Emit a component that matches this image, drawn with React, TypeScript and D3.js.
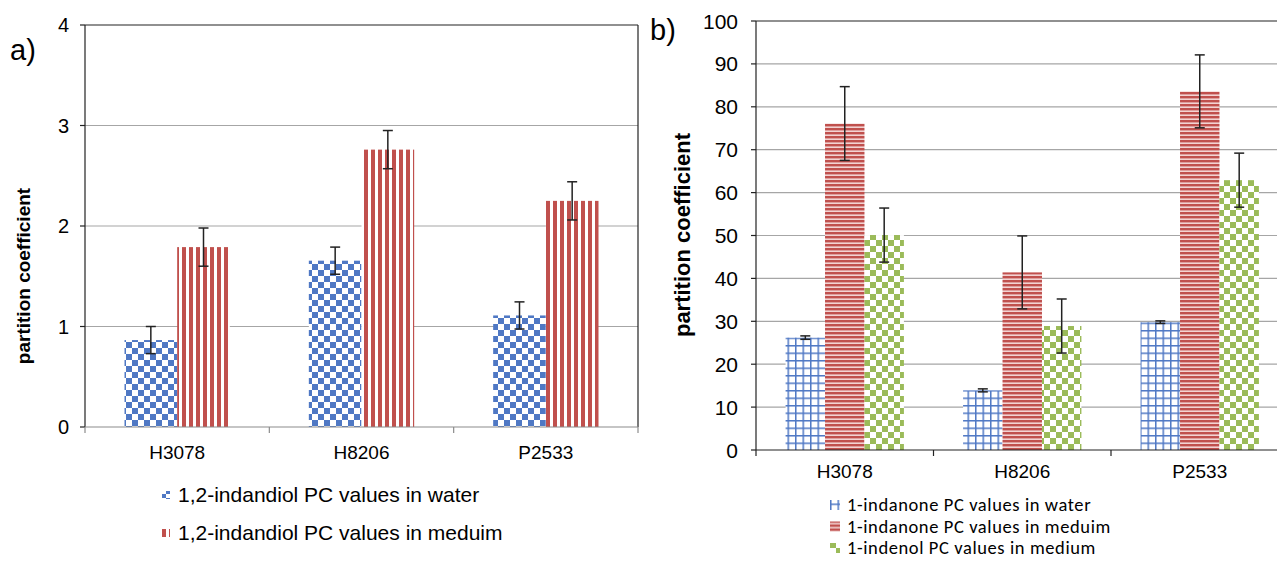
import React from 'react';
import * as d3 from 'd3';

// panel a data
const catsA = ['H3078', 'H8206', 'P2533'];
const seriesA = ['1,2-indandiol PC values in water', '1,2-indandiol PC values in meduim'];
const waterA = [0.865, 1.655, 1.11];
const waterAErr = [0.135, 0.135, 0.135];
const mediumA = [1.79, 2.76, 2.25];
const mediumAErr = [0.19, 0.19, 0.19];
const ticksA = [0, 1, 2, 3, 4];

// panel b data
const catsB = ['H3078', 'H8206', 'P2533'];
const seriesB = ['1-indanone PC values in water', '1-indanone PC values in meduim', '1-indenol PC values in medium'];
const waterB = [26.2, 13.9, 29.8];
const waterBErr = [0.4, 0.35, 0.3];
const indanoneB = [76.1, 41.4, 83.6];
const indanoneBErr = [8.6, 8.5, 8.5];
const indenolB = [50.1, 28.9, 62.9];
const indenolBErr = [6.3, 6.3, 6.3];
const ticksB = [0, 10, 20, 30, 40, 50, 60, 70, 80, 90, 100];

const ARIAL = 'Liberation Sans, Arial, sans-serif';
const CALIBRI = 'Carlito, Lato, sans-serif';

const App: React.FC = () => {
  // panel a scales
  const xA = d3.scaleBand<string>().domain(catsA).range([85, 638]);
  const yA = d3.scaleLinear().domain([0, 4]).range([427, 25]);
  const gapA = 1.5;
  const barWA = xA.bandwidth() / (seriesA.length + gapA);
  const valsA = [waterA, mediumA];
  const errsA = [waterAErr, mediumAErr];
  const fillsA = ['url(#checkBlue)', 'url(#vstripeRed)'];

  // panel b scales
  const xB = d3.scaleBand<string>().domain(catsB).range([756, 1288.5]);
  const yB = d3.scaleLinear().domain([0, 100]).range([450, 21]);
  const gapB = 1.5;
  const barWB = xB.bandwidth() / (seriesB.length + gapB);
  const valsB = [waterB, indanoneB, indenolB];
  const errsB = [waterBErr, indanoneBErr, indenolBErr];
  const fillsB = ['url(#gridBlue)', 'url(#hstripeRed)', 'url(#checkGreen)'];

  return (
    <svg width={1277} height={561} style={{ position: 'absolute', left: 0, top: 0, background: '#fff' }}>
      <defs>
        <pattern id="checkBlue" width={12} height={12} patternUnits="userSpaceOnUse">
          <rect width={12} height={12} fill="#fff" />
          <rect x={0} y={0} width={6} height={6} fill="#4f78c4" />
          <rect x={6} y={6} width={6} height={6} fill="#4f78c4" />
        </pattern>
        <pattern id="checkBlueSmall" width={8} height={8} patternUnits="userSpaceOnUse">
          <rect width={8} height={8} fill="#fff" />
          <rect x={0} y={0} width={4} height={4} fill="#4f78c4" />
          <rect x={4} y={4} width={4} height={4} fill="#4f78c4" />
        </pattern>
        <pattern id="vstripeRed" width={7} height={7} patternUnits="userSpaceOnUse">
          <rect width={7} height={7} fill="#fff" />
          <rect x={0} y={0} width={4} height={7} fill="#c0504d" />
        </pattern>
        <pattern id="gridBlue" width={7.5} height={7.5} patternUnits="userSpaceOnUse">
          <rect width={7.5} height={7.5} fill="#fff" />
          <rect x={0} y={0} width={1.5} height={7.5} fill="#4f78c4" />
          <rect x={0} y={0} width={7.5} height={1.5} fill="#4f78c4" />
        </pattern>
        <pattern id="hstripeRed" width={4} height={4} patternUnits="userSpaceOnUse">
          <rect width={4} height={4} fill="#f2d3d2" />
          <rect x={0} y={0} width={4} height={2.4} fill="#c0504d" />
        </pattern>
        <pattern id="checkGreen" width={12} height={12} patternUnits="userSpaceOnUse">
          <rect width={12} height={12} fill="#fff" />
          <rect x={0} y={0} width={6} height={6} fill="#9bbb59" />
          <rect x={6} y={6} width={6} height={6} fill="#9bbb59" />
        </pattern>
      </defs>

      {/* ---------- panel a ---------- */}
      <text x={10} y={60} fontFamily={ARIAL} fontSize={29}>a)</text>
      {ticksA.filter(t => t > 0 && t < 4).map(t => (
        <line key={t} x1={85} x2={638} y1={yA(t)} y2={yA(t)} stroke="#a6a6a6" strokeWidth={1.2} />
      ))}
      <line x1={85} x2={638} y1={yA(4)} y2={yA(4)} stroke="#222" strokeWidth={1.2} />
      <line x1={638} x2={638} y1={yA(4)} y2={yA(0)} stroke="#222" strokeWidth={1.2} />
      <line x1={85} x2={85} y1={yA(4)} y2={yA(0)} stroke="#222" strokeWidth={1.2} />
      {ticksA.map(t => (
        <g key={t}>
          <line x1={80} x2={85} y1={yA(t)} y2={yA(t)} stroke="#222" strokeWidth={1.2} />
          <text x={69} y={yA(t) + 7} textAnchor="end" fontFamily={ARIAL} fontSize={20}>{t}</text>
        </g>
      ))}
      {catsA.map((c, i) =>
        valsA.map((vals, s) => {
          const x0 = (xA(c) as number) + barWA * gapA / 2 + s * barWA;
          const cx = x0 + barWA / 2;
          const v = vals[i];
          const e = errsA[s][i];
          return (
            <g key={c + s}>
              <rect x={x0} y={yA(v)} width={barWA} height={yA(0) - yA(v)} fill={fillsA[s]} />
              <line x1={cx} x2={cx} y1={yA(v + e)} y2={yA(v - e)} stroke="#222" strokeWidth={1.5} />
              <line x1={cx - 5} x2={cx + 5} y1={yA(v + e)} y2={yA(v + e)} stroke="#222" strokeWidth={1.5} />
              <line x1={cx - 5} x2={cx + 5} y1={yA(v - e)} y2={yA(v - e)} stroke="#222" strokeWidth={1.5} />
            </g>
          );
        })
      )}
      <line x1={85} x2={638} y1={yA(0)} y2={yA(0)} stroke="#8c8c8c" strokeWidth={1.2} />
      {[...catsA.map(c => xA(c) as number), 638].map((x, i) => (
        <line key={i} x1={x} x2={x} y1={yA(0)} y2={yA(0) + 6} stroke="#8c8c8c" strokeWidth={1.2} />
      ))}
      {catsA.map(c => (
        <text key={c} x={(xA(c) as number) + xA.bandwidth() / 2} y={459} textAnchor="middle" fontFamily={ARIAL} fontSize={19}>{c}</text>
      ))}
      <text transform="translate(30,276) rotate(-90)" textAnchor="middle" fontFamily={ARIAL} fontSize={19} fontWeight="bold">partition coefficient</text>
      {seriesA.map((s, i) => (
        <g key={s} transform={`translate(162,${502 + i * 38})`}>
          <rect x={0} y={-11} width={8} height={8} fill={i === 0 ? 'url(#checkBlueSmall)' : 'url(#vstripeRed)'} />
          <text x={16} y={0} fontFamily={ARIAL} fontSize={21}>{s}</text>
        </g>
      ))}

      {/* ---------- panel b ---------- */}
      <text x={650} y={40} fontFamily={ARIAL} fontSize={29}>b)</text>
      {ticksB.filter(t => t > 0 && t < 100).map(t => (
        <line key={t} x1={756} x2={1277} y1={yB(t)} y2={yB(t)} stroke="#a6a6a6" strokeWidth={1.2} />
      ))}
      <line x1={756} x2={1277} y1={yB(100)} y2={yB(100)} stroke="#222" strokeWidth={1.2} />
      <line x1={756} x2={756} y1={yB(100)} y2={yB(0)} stroke="#222" strokeWidth={1.2} />
      {ticksB.map(t => (
        <g key={t}>
          <line x1={751} x2={756} y1={yB(t)} y2={yB(t)} stroke="#222" strokeWidth={1.2} />
          <text x={738} y={yB(t) + 7.5} textAnchor="end" fontFamily={ARIAL} fontSize={21}>{t}</text>
        </g>
      ))}
      {catsB.map((c, i) =>
        valsB.map((vals, s) => {
          const x0 = (xB(c) as number) + barWB * gapB / 2 + s * barWB;
          const cx = x0 + barWB / 2;
          const v = vals[i];
          const e = errsB[s][i];
          return (
            <g key={c + s}>
              <rect x={x0} y={yB(v)} width={barWB} height={yB(0) - yB(v)} fill={fillsB[s]} />
              <line x1={cx} x2={cx} y1={yB(v + e)} y2={yB(v - e)} stroke="#222" strokeWidth={1.5} />
              <line x1={cx - 5} x2={cx + 5} y1={yB(v + e)} y2={yB(v + e)} stroke="#222" strokeWidth={1.5} />
              <line x1={cx - 5} x2={cx + 5} y1={yB(v - e)} y2={yB(v - e)} stroke="#222" strokeWidth={1.5} />
            </g>
          );
        })
      )}
      <line x1={756} x2={1277} y1={yB(0)} y2={yB(0)} stroke="#222" strokeWidth={1.2} />
      {catsB.map(c => xB(c) as number).map((x, i) => (
        <line key={i} x1={x} x2={x} y1={yB(0)} y2={yB(0) + 6} stroke="#222" strokeWidth={1.2} />
      ))}
      {catsB.map(c => (
        <text key={c} x={(xB(c) as number) + xB.bandwidth() / 2} y={478} textAnchor="middle" fontFamily={ARIAL} fontSize={19}>{c}</text>
      ))}
      <text transform="translate(690,235) rotate(-90)" textAnchor="middle" fontFamily={ARIAL} fontSize={22} fontWeight="bold">partition coefficient</text>
      {seriesB.map((s, i) => (
        <g key={s} transform={`translate(830,${511 + i * 21.5})`}>
          <rect x={0} y={-11} width={10} height={10} fill={fillsB[i]} />
          <text x={17} y={0} fontFamily={CALIBRI} fontSize={18.5} letterSpacing={0.6}>{s}</text>
        </g>
      ))}
    </svg>
  );
};

export default App;
